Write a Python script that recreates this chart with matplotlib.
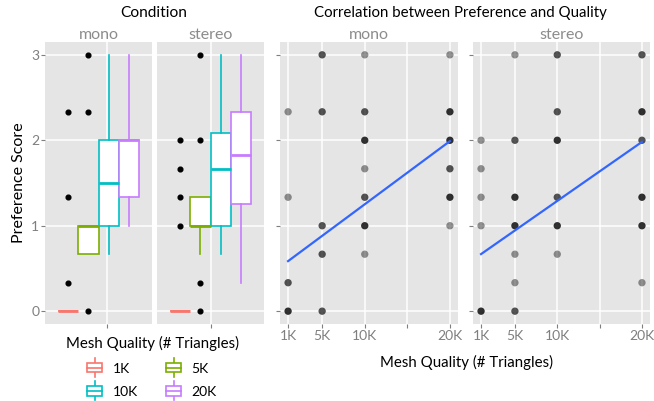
import numpy as np
import matplotlib.pyplot as plt
from matplotlib.patches import Rectangle, Patch
from matplotlib.lines import Line2D
from matplotlib.legend_handler import HandlerBase

plt.rcParams['font.family'] = ['Lato', 'DejaVu Sans']

W, H = 654, 401

qualities = ['1K', '5K', '10K', '20K']
quality_k = [1, 5, 10, 20]
colors = ['#F8766D', '#7CAE00', '#00BFC4', '#C77CFF']
conditions = ['mono', 'stereo']

# boxplot stats: q1, median, q3, lower whisker, upper whisker
box_mono = [(0, 0, 0, 0, 0),
            (2/3, 1, 1, 2/3, 1),
            (1, 1.5, 2, 2/3, 3),
            (4/3, 2, 2, 1, 3)]
box_stereo = [(0, 0, 0, 0, 0),
              (1, 1, 4/3, 2/3, 4/3),
              (1, 5/3, 2.08, 2/3, 3),
              (1.25, 1.83, 7/3, 1/3, 3)]
fliers_mono = [[1/3, 4/3, 7/3], [0, 7/3, 3], [], []]
fliers_stereo = [[1, 4/3, 5/3, 2], [0, 1/3, 2, 3], [], []]

# scatter points: quality (K triangles), score, number of overlapping responses
mono_q = [5, 10, 20, 1, 5, 10, 20, 10, 20, 10, 20, 1, 10, 20, 5, 10, 20, 5, 10, 1, 1, 5]
mono_s = [3, 3, 3, 7/3, 7/3, 7/3, 7/3, 2, 2, 5/3, 5/3, 4/3, 4/3, 4/3, 1, 1, 1,
          2/3, 2/3, 1/3, 0, 0]
mono_n = [2, 1, 1, 1, 2, 2, 3, 3, 3, 1, 2, 1, 2, 3, 2, 3, 1, 2, 1, 2, 3, 2]

stereo_q = [5, 10, 20, 10, 20, 1, 5, 10, 20, 1, 1, 5, 10, 20, 1, 5, 10, 20,
            5, 10, 5, 20, 1, 5]
stereo_s = [3, 3, 3, 7/3, 7/3, 2, 2, 2, 2, 5/3, 4/3, 4/3, 4/3, 4/3, 1, 1, 1, 1,
            2/3, 2/3, 1/3, 1/3, 0, 0]
stereo_n = [1, 2, 2, 2, 3, 1, 2, 3, 2, 1, 1, 3, 2, 3, 1, 3, 3, 3, 1, 1, 1, 1, 3, 2]

# linear fit lines (intercept, slope)
fit_mono = (0.512, 0.0739)
fit_stereo = (0.599, 0.0691)

box_pos = [-0.3375, -0.1125, 0.1125, 0.3375]
left_tick = [0.1, 0.0]

GREY_TXT = '#7F7F7F'
PANEL = '#E5E5E5'


def px_axes(fig, x0, x1, y0, y1):
    return fig.add_axes([x0 / W, 1 - y1 / H, (x1 - x0) / W, (y1 - y0) / H])


def style_panel(ax):
    ax.set_facecolor(PANEL)
    for s in ax.spines.values():
        s.set_visible(False)
    ax.grid(True, color='white', lw=1.1)
    ax.set_axisbelow(True)
    ax.tick_params(colors=GREY_TXT, labelcolor=GREY_TXT, length=3, width=0.8,
                   labelsize=10, pad=1)
    ax.set_ylim(-0.15, 3.15)
    ax.set_yticks([0, 1, 2, 3])


fig = plt.figure(figsize=(W / 100, H / 100), dpi=100)

# ---- left: boxplots by condition
left_axes = [px_axes(fig, 45, 152, 42, 324), px_axes(fig, 157, 264, 42, 324)]
for i, ax in enumerate(left_axes):
    style_panel(ax)
    boxes = box_mono if i == 0 else box_stereo
    fliers = fliers_mono if i == 0 else fliers_stereo
    for j, (q1, med, q3, lo, hi) in enumerate(boxes):
        st = [dict(q1=q1, med=med, q3=q3, whislo=lo, whishi=hi, fliers=fliers[j])]
        c = colors[j]
        ax.bxp(st, positions=[box_pos[j]], widths=0.225, patch_artist=True,
               showcaps=False,
               boxprops=dict(facecolor='white', edgecolor=c, lw=1.2),
               medianprops=dict(color=c, lw=2.0),
               whiskerprops=dict(color=c, lw=1.2),
               flierprops=dict(marker='o', markerfacecolor='black',
                               markeredgecolor='black', markersize=3.4))
    ax.set_xlim(-0.6, 0.6)
    ax.set_xticks([left_tick[i]])
    ax.set_xticklabels([''])
    if i == 0:
        ax.set_yticklabels(['0', '1', '2', '3'])
        ax.set_ylabel('Preference Score', fontsize=11.5, labelpad=4)
    else:
        ax.tick_params(axis='y', length=0, labelleft=False)
    ax.set_title(conditions[i], fontsize=11.5, color='#8C8C8C', pad=2)

fig.text(154 / W, 1 - 13 / H, 'Condition', ha='center', va='center', fontsize=11.2)

# ---- right: scatter + fit by condition
right_axes = [px_axes(fig, 280, 458, 42, 324), px_axes(fig, 473, 650, 42, 324)]
for i, ax in enumerate(right_axes):
    style_panel(ax)
    q = np.array(mono_q if i == 0 else stereo_q, dtype=float)
    s = np.array(mono_s if i == 0 else stereo_s, dtype=float)
    n = np.array(mono_n if i == 0 else stereo_n)
    alpha = 1 - (1 - 0.42) ** n
    rgba = np.zeros((len(n), 4))
    rgba[:, 3] = alpha
    ax.scatter(q, s, s=28, c=rgba, edgecolors='none', zorder=3)
    b0, b1 = fit_mono if i == 0 else fit_stereo
    xx = np.array([1, 20])
    ax.plot(xx, b0 + b1 * xx, color='#3366FF', lw=1.6, zorder=4)
    ax.set_xlim(0.05, 20.95)
    ax.set_xticks([1, 5, 10, 15, 20])
    ax.set_xticklabels(['1K', '5K', '10K', '', '20K'])
    ax.set_yticklabels(['', '', '', ''])
    ax.set_title(conditions[i], fontsize=11.5, color='#8C8C8C', pad=2)

fig.text(460 / W, 1 - 13 / H, 'Correlation between Preference and Quality',
         ha='center', va='center', fontsize=10.8)
fig.text(466 / W, 1 - 362 / H, 'Mesh Quality (# Triangles)',
         ha='center', va='center', fontsize=10.8)


# ---- legend with mini boxplot keys
class BoxKey(HandlerBase):
    def create_artists(self, legend, orig_handle, xdescent, ydescent,
                       width, height, fontsize, trans):
        c = orig_handle.get_edgecolor()
        x0, y0 = -xdescent, -ydescent
        bh = height * 0.7
        by = y0 + (height - bh) / 2
        rect = Rectangle((x0, by), width, bh, facecolor='white', edgecolor=c,
                         lw=1.2, transform=trans)
        med = Line2D([x0, x0 + width], [y0 + height / 2] * 2, color=c, lw=1.2,
                     transform=trans)
        w1 = Line2D([x0 + width / 2] * 2, [y0 - 2, by], color=c, lw=1.2,
                    transform=trans)
        w2 = Line2D([x0 + width / 2] * 2, [by + bh, y0 + height + 2], color=c,
                    lw=1.2, transform=trans)
        return [w1, w2, rect, med]


order = [0, 2, 1, 3]
handles = [Patch(edgecolor=colors[k], facecolor='white') for k in order]
labels = [qualities[k] for k in order]
leg = fig.legend(handles, labels, handler_map={Patch: BoxKey()}, ncol=2,
                 loc='upper center', bbox_to_anchor=(152 / W, 1 - 328 / H),
                 frameon=False, title='Mesh Quality (# Triangles)',
                 title_fontsize=10.8, fontsize=10, handlelength=1.1,
                 handleheight=1.1, handletextpad=0.75, columnspacing=2.0,
                 labelspacing=0.7, borderpad=0.1)

fig.savefig('out.png', dpi=100)
